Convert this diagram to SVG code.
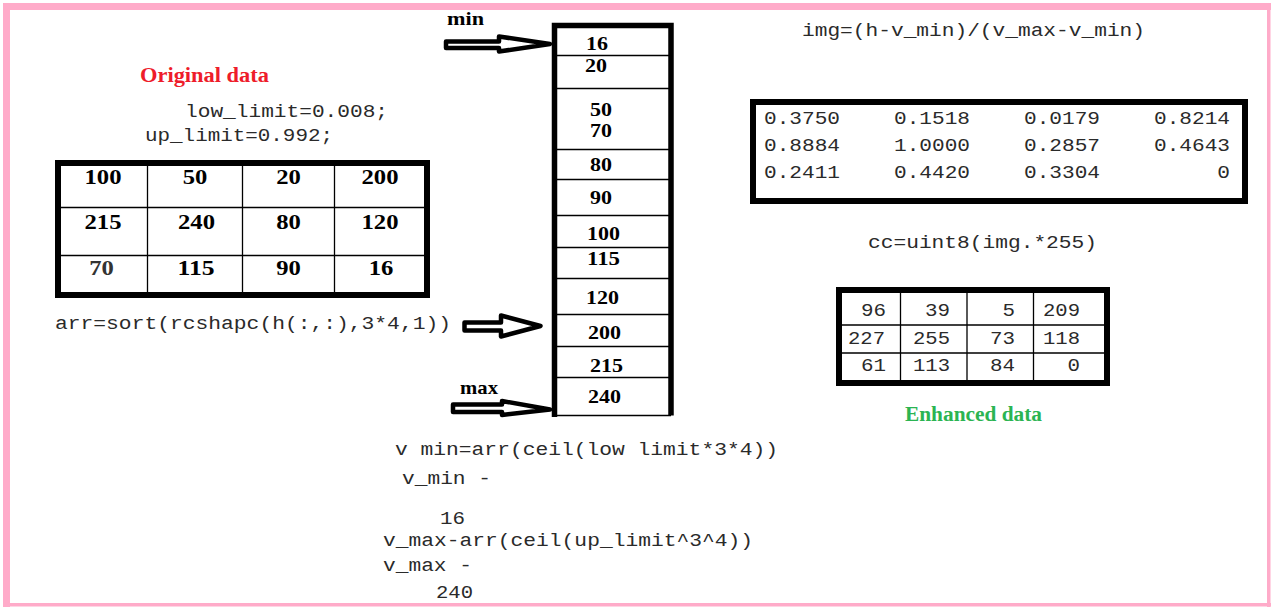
<svg xmlns="http://www.w3.org/2000/svg" width="1272" height="607" viewBox="0 0 1272 607">
<style>
.b{font-family:"Liberation Serif","Times New Roman",serif;font-weight:bold;font-size:20px;fill:#000}
.c{font-family:"Liberation Serif","Times New Roman",serif;font-weight:bold;font-size:18px;fill:#000}
.m{font-family:"Liberation Mono","Courier New",monospace;font-size:18px;fill:#2a2a2a}
.thick{fill:none;stroke:#000;stroke-width:6}
.thin{fill:none;stroke:#000;stroke-width:1.3}
.arrow{fill:#fff;stroke:#000;stroke-width:4.5;stroke-linejoin:round}
.pink{fill:#ffabc9}
.mid{text-anchor:middle}
.end{text-anchor:end}
</style>
<rect width="1272" height="607" fill="#fff"/>
<g id="border">
<rect class="pink" x="3" y="3" width="1268" height="7"/>
<rect class="pink" x="3" y="3" width="7" height="604"/>
<rect class="pink" x="1267" y="3" width="3.5" height="604"/>
<rect class="pink" x="3" y="603" width="1268" height="3.5"/>
</g>
<g id="original-label">
<text class="b" x="140" y="82" style="fill:#ee1c2a" textLength="129" lengthAdjust="spacingAndGlyphs">Original data</text>
</g>
<g id="limits">
<text class="m" x="185" y="117" textLength="203" lengthAdjust="spacingAndGlyphs">low_limit=0.008;</text>
<text class="m" x="145" y="141" textLength="188" lengthAdjust="spacingAndGlyphs">up_limit=0.992;</text>
</g>
<g id="original-table">
<rect class="thick" x="58" y="163" width="369" height="132"/>
<path class="thin" d="M147.5,163V295M242.5,163V295M334.5,163V295M58,207.5H427M58,255.5H427"/>
<g class="b mid">
<text x="103" y="184" textLength="37" lengthAdjust="spacingAndGlyphs">100</text>
<text x="195" y="184" textLength="24.6" lengthAdjust="spacingAndGlyphs">50</text>
<text x="288.5" y="184" textLength="24.6" lengthAdjust="spacingAndGlyphs">20</text>
<text x="380" y="184" textLength="37" lengthAdjust="spacingAndGlyphs">200</text>
<text x="103" y="229" textLength="37" lengthAdjust="spacingAndGlyphs">215</text>
<text x="196.5" y="229" textLength="37" lengthAdjust="spacingAndGlyphs">240</text>
<text x="288.5" y="229" textLength="24.6" lengthAdjust="spacingAndGlyphs">80</text>
<text x="380" y="229" textLength="37" lengthAdjust="spacingAndGlyphs">120</text>
<text x="101.5" y="275" textLength="24.6" lengthAdjust="spacingAndGlyphs" style="fill:#333">70</text>
<text x="196" y="275" textLength="37" lengthAdjust="spacingAndGlyphs">115</text>
<text x="288.5" y="275" textLength="24.6" lengthAdjust="spacingAndGlyphs">90</text>
<text x="381" y="275" textLength="24.6" lengthAdjust="spacingAndGlyphs">16</text>
</g>
</g>
<g id="sort-code">
<text class="m" x="55" y="329" textLength="396" lengthAdjust="spacingAndGlyphs">arr=sort(rcshapc(h(:,:),3*4,1))</text>
</g>
<g id="sorted-column">
<path class="thin" d="M555,55.5H671M555,88.5H671M555,149.5H671M555,179.5H671M555,215.5H671M555,247.5H671M555,278.5H671M555,314.5H671M555,346.5H671M555,377.5H671M555,415.5H671"/>
<path fill="none" stroke="#000" stroke-width="5.5" d="M554.5,417V25.5H671V415.5"/>
<g class="c">
<text x="586" y="50" textLength="22" lengthAdjust="spacingAndGlyphs">16</text>
<text x="585" y="72" textLength="22" lengthAdjust="spacingAndGlyphs">20</text>
<text x="590" y="116" textLength="22" lengthAdjust="spacingAndGlyphs">50</text>
<text x="590" y="137" textLength="22" lengthAdjust="spacingAndGlyphs">70</text>
<text x="590" y="171" textLength="22" lengthAdjust="spacingAndGlyphs">80</text>
<text x="590" y="204" textLength="22" lengthAdjust="spacingAndGlyphs">90</text>
<text x="587" y="240" textLength="33" lengthAdjust="spacingAndGlyphs">100</text>
<text x="587" y="265" textLength="33" lengthAdjust="spacingAndGlyphs">115</text>
<text x="586" y="304" textLength="33" lengthAdjust="spacingAndGlyphs">120</text>
<text x="588" y="339" textLength="33" lengthAdjust="spacingAndGlyphs">200</text>
<text x="590" y="372" textLength="33" lengthAdjust="spacingAndGlyphs">215</text>
<text x="588" y="403" textLength="33" lengthAdjust="spacingAndGlyphs">240</text>
</g>
</g>
<g id="min-label">
<text class="c" x="447" y="25" style="font-size:19px" textLength="37" lengthAdjust="spacingAndGlyphs">min</text>
</g>
<g id="max-label">
<text class="c" x="460" y="394" style="font-size:19px" textLength="38" lengthAdjust="spacingAndGlyphs">max</text>
</g>
<g id="connectors">
<path class="arrow" d="M446,41.5L499,41.5L499,36.5L550,44L499,51.5L499,48L446,48Z"/>
<path class="arrow" d="M464.5,322.5L501,322.5L501,315.5L540.5,326L501,336.5L501,330.5L464.5,330.5Z"/>
<path class="arrow" d="M453,404.5L502,404.5L502,401L550,409.5L502,415L502,412L453,412Z"/>
</g>
<g id="limit-results">
<text class="m" x="395" y="455" textLength="383" lengthAdjust="spacingAndGlyphs">v min=arr(ceil(low limit*3*4))</text>
<text class="m" x="402" y="484" textLength="89" lengthAdjust="spacingAndGlyphs">v_min -</text>
<text class="m" x="440" y="524" textLength="25" lengthAdjust="spacingAndGlyphs">16</text>
<text class="m" x="383" y="546" textLength="370" lengthAdjust="spacingAndGlyphs">v_max-arr(ceil(up_limit^3^4))</text>
<text class="m" x="383" y="571" textLength="89" lengthAdjust="spacingAndGlyphs">v_max -</text>
<text class="m" x="436" y="598" textLength="37" lengthAdjust="spacingAndGlyphs">240</text>
</g>
<g id="img-formula">
<text class="m" x="802" y="36" textLength="343" lengthAdjust="spacingAndGlyphs">img=(h-v_min)/(v_max-v_min)</text>
</g>
<g id="normalized-table">
<rect class="thick" x="753" y="102" width="492" height="99"/>
<g class="m end">
<text x="840" y="124" textLength="76" lengthAdjust="spacingAndGlyphs">0.3750</text>
<text x="970" y="124" textLength="76" lengthAdjust="spacingAndGlyphs">0.1518</text>
<text x="1100" y="124" textLength="76" lengthAdjust="spacingAndGlyphs">0.0179</text>
<text x="1230" y="124" textLength="76" lengthAdjust="spacingAndGlyphs">0.8214</text>
<text x="840" y="151" textLength="76" lengthAdjust="spacingAndGlyphs">0.8884</text>
<text x="970" y="151" textLength="76" lengthAdjust="spacingAndGlyphs">1.0000</text>
<text x="1100" y="151" textLength="76" lengthAdjust="spacingAndGlyphs">0.2857</text>
<text x="1230" y="151" textLength="76" lengthAdjust="spacingAndGlyphs">0.4643</text>
<text x="840" y="178" textLength="76" lengthAdjust="spacingAndGlyphs">0.2411</text>
<text x="970" y="178" textLength="76" lengthAdjust="spacingAndGlyphs">0.4420</text>
<text x="1100" y="178" textLength="76" lengthAdjust="spacingAndGlyphs">0.3304</text>
<text x="1230" y="178" textLength="12.7" lengthAdjust="spacingAndGlyphs">0</text>
</g>
</g>
<g id="cc-formula">
<text class="m" x="868" y="248" textLength="229" lengthAdjust="spacingAndGlyphs">cc=uint8(img.*255)</text>
</g>
<g id="enhanced-table">
<rect class="thick" x="839" y="290" width="268" height="93"/>
<path class="thin" d="M900.5,290V383M967,290V383M1033.5,290V383M839,325H1107M839,353H1107"/>
<g class="m end">
<text x="886" y="316" textLength="25" lengthAdjust="spacingAndGlyphs">96</text>
<text x="950" y="316" textLength="25" lengthAdjust="spacingAndGlyphs">39</text>
<text x="1015" y="316" textLength="12.5" lengthAdjust="spacingAndGlyphs">5</text>
<text x="1080" y="316" textLength="37" lengthAdjust="spacingAndGlyphs">209</text>
<text x="885" y="344" textLength="37" lengthAdjust="spacingAndGlyphs">227</text>
<text x="950" y="344" textLength="37" lengthAdjust="spacingAndGlyphs">255</text>
<text x="1015" y="344" textLength="25" lengthAdjust="spacingAndGlyphs">73</text>
<text x="1080" y="344" textLength="37" lengthAdjust="spacingAndGlyphs">118</text>
<text x="886" y="371" textLength="25" lengthAdjust="spacingAndGlyphs">61</text>
<text x="950" y="371" textLength="37" lengthAdjust="spacingAndGlyphs">113</text>
<text x="1015" y="371" textLength="25" lengthAdjust="spacingAndGlyphs">84</text>
<text x="1080" y="371" textLength="12.5" lengthAdjust="spacingAndGlyphs">0</text>
</g>
</g>
<g id="enhanced-label">
<text class="b" x="905" y="421" style="fill:#2bb452" textLength="137" lengthAdjust="spacingAndGlyphs">Enhanced data</text>
</g>
</svg>
